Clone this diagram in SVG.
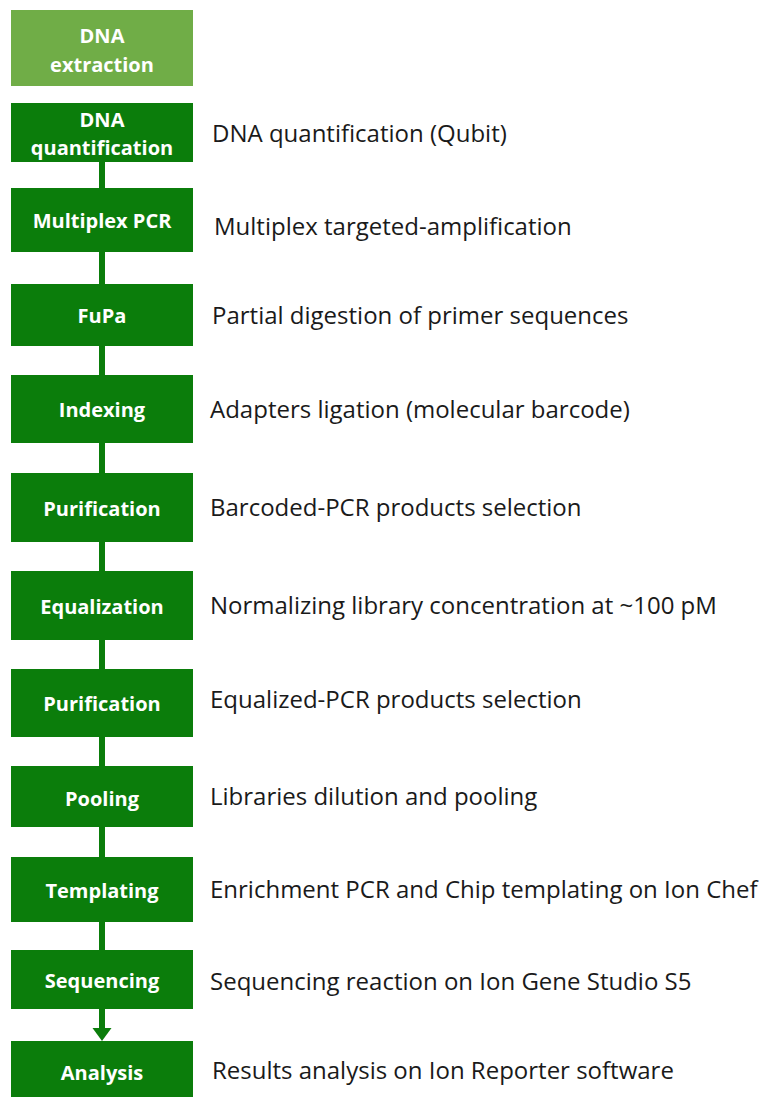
<svg xmlns="http://www.w3.org/2000/svg" width="759" height="1097" viewBox="0 0 759 1097">
<defs>
<style>
.box{fill:#0B7D0B}
.light{fill:#70AD47}
.bt{font-family:"Open Sans","Liberation Sans",sans-serif;font-weight:bold;font-size:20px;fill:#fff;text-anchor:middle}
.rt{font-family:"Open Sans","Liberation Sans",sans-serif;font-size:24px;fill:#1a1a1a}
.conn{stroke:#0B7D0B;stroke-width:6;fill:none}
</style>
</defs>
<rect width="759" height="1097" fill="#fff"/>
<g id="connectors">
<line class="conn" x1="102" y1="162" x2="102" y2="188"/>
<line class="conn" x1="102" y1="252" x2="102" y2="284"/>
<line class="conn" x1="102" y1="346" x2="102" y2="375"/>
<line class="conn" x1="102" y1="443" x2="102" y2="473"/>
<line class="conn" x1="102" y1="542" x2="102" y2="571"/>
<line class="conn" x1="102" y1="640" x2="102" y2="669"/>
<line class="conn" x1="102" y1="737" x2="102" y2="766"/>
<line class="conn" x1="102" y1="827" x2="102" y2="857"/>
<line class="conn" x1="102" y1="922" x2="102" y2="950"/>
<line class="conn" x1="102" y1="1009" x2="102" y2="1029"/>
<path d="M92.5,1028 L111.5,1028 L102,1041 Z" fill="#0B7D0B"/>
</g>
<g id="n1"><rect class="light" x="11" y="10" width="182" height="76"/><text class="bt" x="102" y="43">DNA</text><text class="bt" x="102" y="72">extraction</text></g>
<g id="n2"><rect class="box" x="11" y="103" width="182" height="59"/><text class="bt" x="102" y="127">DNA</text><text class="bt" x="102" y="155">quantification</text><text class="rt" x="212" y="142">DNA quantification (Qubit)</text></g>
<g id="n3"><rect class="box" x="11" y="188" width="182" height="64"/><text class="bt" x="102" y="228">Multiplex PCR</text><text class="rt" x="214" y="235">Multiplex targeted-amplification</text></g>
<g id="n4"><rect class="box" x="11" y="284" width="182" height="62"/><text class="bt" x="102" y="323">FuPa</text><text class="rt" x="212" y="324">Partial digestion of primer sequences</text></g>
<g id="n5"><rect class="box" x="11" y="375" width="182" height="68"/><text class="bt" x="102" y="417">Indexing</text><text class="rt" x="210" y="418">Adapters ligation (molecular barcode)</text></g>
<g id="n6"><rect class="box" x="11" y="473" width="182" height="69"/><text class="bt" x="102" y="516">Purification</text><text class="rt" x="210" y="516">Barcoded-PCR products selection</text></g>
<g id="n7"><rect class="box" x="11" y="571" width="182" height="69"/><text class="bt" x="102" y="614">Equalization</text><text class="rt" x="210" y="614">Normalizing library concentration at ~100 pM</text></g>
<g id="n8"><rect class="box" x="11" y="669" width="182" height="68"/><text class="bt" x="102" y="711">Purification</text><text class="rt" x="210" y="708">Equalized-PCR products selection</text></g>
<g id="n9"><rect class="box" x="11" y="766" width="182" height="61"/><text class="bt" x="102" y="806">Pooling</text><text class="rt" x="210" y="805">Libraries dilution and pooling</text></g>
<g id="n10"><rect class="box" x="11" y="857" width="182" height="65"/><text class="bt" x="102" y="898">Templating</text><text class="rt" x="210" y="898">Enrichment PCR and Chip templating on Ion Chef</text></g>
<g id="n11"><rect class="box" x="11" y="950" width="182" height="59"/><text class="bt" x="102" y="988">Sequencing</text><text class="rt" x="210" y="990">Sequencing reaction on Ion Gene Studio S5</text></g>
<g id="n12"><rect class="box" x="11" y="1041" width="182" height="56"/><text class="bt" x="102" y="1080">Analysis</text><text class="rt" x="212" y="1079">Results analysis on Ion Reporter software</text></g>
</svg>
